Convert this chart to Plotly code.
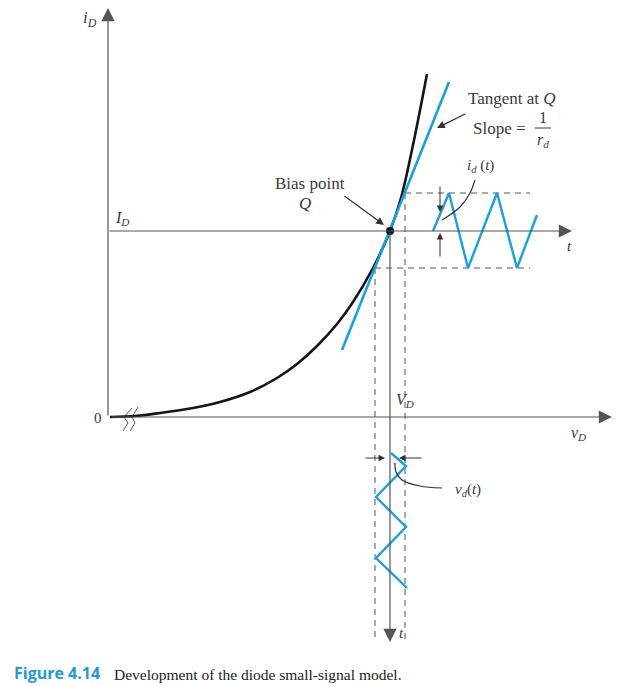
import plotly.graph_objects as go

# ---- diagram data (units: origin at the axes origin) ----
curve_vD = [2, 27, 52, 85, 112, 142, 169, 189, 209, 229, 245, 265, 282, 293, 305, 319]
curve_iD = [0, 1, 4, 9, 15, 25, 39, 53, 71, 93, 115, 149, 186, 219, 272, 343]
tangent_vD = [234, 341]
tangent_iD = [67, 335]
Q_vD, Q_iD = 282, 186
id_t = [325, 341, 360, 389, 409, 429]
id_vals = [186, 224, 149, 224, 149, 202]
vd_vals = [283, 298, 268, 298, 268, 299]
vd_t = [-36, -49, -80, -110, -141, -171]
id_hi, id_lo = 224, 149
vd_lo, vd_hi = 267, 297
t_end = -225

GRAY = "#555555"
TXT = "#3a3a3a"
BLUE = "#1aa0dc"
SERIF = "Liberation Serif"

fig = go.Figure()

def line(x, y, color=GRAY, width=1, dash=None, shape="linear"):
    fig.add_trace(go.Scatter(x=x, y=y, mode="lines", hoverinfo="skip",
                             line=dict(color=color, width=width, dash=dash, shape=shape)))

# dashed guide lines
line([vd_hi, 422], [id_hi, id_hi], dash="6px,5px")
line([vd_lo, 422], [id_lo, id_lo], dash="6px,5px")
line([vd_lo, vd_lo], [id_lo, t_end + 2], dash="6px,5px")
line([vd_hi, vd_hi], [id_hi, t_end + 2], dash="6px,5px")

# break symbol
line([15, 20, 16, 24], [-14, -6, 0, 9], color=GRAY, width=1)
line([22, 27, 24, 30], [-14, -6, 0, 10], color=GRAY, width=1)

# characteristic curve
line(curve_vD, curve_iD, color="#151515", width=2.6, shape="spline")
# tangent
line(tangent_vD, tangent_iD, color=BLUE, width=2.6)
# small-signal waves
line(id_t, id_vals, color=BLUE, width=2.4)
line(vd_vals, vd_t, color=BLUE, width=2.4)

# leader curves
line([367, 362, 352, 334], [237, 224, 210, 197], color="#333333", width=1.2, shape="spline")
line([334, 312, 294, 288, 287], [-71, -69, -63, -55, -46], color="#333333", width=1.2, shape="spline")

# Q point
fig.add_trace(go.Scatter(x=[Q_vD], y=[Q_iD], mode="markers", hoverinfo="skip",
                         marker=dict(color="#111111", size=8)))

ann = []
def arrow(x0, y0, x1, y1, color=GRAY, width=1, size=1.0, head=2):
    ann.append(dict(x=x1, y=y1, ax=x0, ay=y0, xref="x", yref="y", axref="x", ayref="y",
                    text="", showarrow=True, arrowhead=head, arrowsize=size,
                    arrowwidth=width, arrowcolor=color, standoff=0, startstandoff=0))

def text(x, y, s, size=17, color=TXT, font=SERIF, xanchor="center"):
    ann.append(dict(x=x, y=y, xref="x", yref="y", text=s, showarrow=False,
                    xanchor=xanchor, yanchor="middle",
                    font=dict(family=font, size=size, color=color)))

# axes
arrow(0, 0, 0, 409, color=GRAY, width=1.2, size=2.2)
arrow(2, 0, 504, 0, color=GRAY, width=1.2, size=2.2)
arrow(0, Q_iD, 464, Q_iD, color=GRAY, width=1.2, size=2.2)
arrow(Q_vD, Q_iD, Q_vD, t_end, color=GRAY, width=1.2, size=2.2)

# pointer arrows
arrow(235, 222, 276, 192, color="#333333", width=1.2, size=1.3)
arrow(359, 304, 329, 289, color="#333333", width=1.2, size=1.3)
arrow(332, 232, 332, 205, color="#333333", width=1, size=1.3)
arrow(332, 159, 332, 184, color="#333333", width=1, size=1.3)
arrow(256, -41, 277, -41, color="#333333", width=1, size=1.3)
arrow(315, -41, 291, -41, color="#333333", width=1, size=1.3)

# labels
text(-18, 398, "<i>i<sub>D</sub></i>", size=17)
text(-10, -1, "0", size=15)
text(14, 199, "<i>I<sub>D</sub></i>", size=16)
text(461, 171, "<i>t</i>", size=15)
text(297, 17, "<i>V<sub>D</sub></i>", size=16)
text(470, -16, "<i>v<sub>D</sub></i>", size=16)
text(293, -216, "<i>t</i>", size=15)
text(202, 234, "Bias point", size=17)
text(197, 214, "<i>Q</i>", size=17)
text(404, 319, "Tangent at <i>Q</i>", size=17)
text(391, 289, "Slope =", size=17)
text(435, 300, "1", size=16)
text(435, 277, "<i>r<sub>d</sub></i>", size=16)
text(372, 251, "<i>i<sub>d</sub></i> (<i>t</i>)", size=15)
text(360, -73, "<i>v<sub>d</sub></i>(<i>t</i>)", size=15)
text(-96, -256, "<b>Figure 4.14</b>", size=16, color="#1f9ad6", font="Open Sans", xanchor="left")
text(4, -257, "Development of the diode small-signal model.", size=15.5, color="#222222", xanchor="left")
fig.update_layout(annotations=ann)

# fraction bar
fig.add_shape(type="line", x0=427, x1=443, y0=289, y1=289, line=dict(color=TXT, width=1))

# page body has an 8px margin: size and ranges compensate so the content sits where it should
fig.update_layout(
    width=613, height=678, margin=dict(l=0, r=0, t=0, b=0),
    paper_bgcolor="white", plot_bgcolor="white", showlegend=False,
    xaxis=dict(range=[-100, 513], visible=False, fixedrange=True),
    yaxis=dict(range=[-269, 409], visible=False, fixedrange=True),
)
fig.write_html("out.html")
